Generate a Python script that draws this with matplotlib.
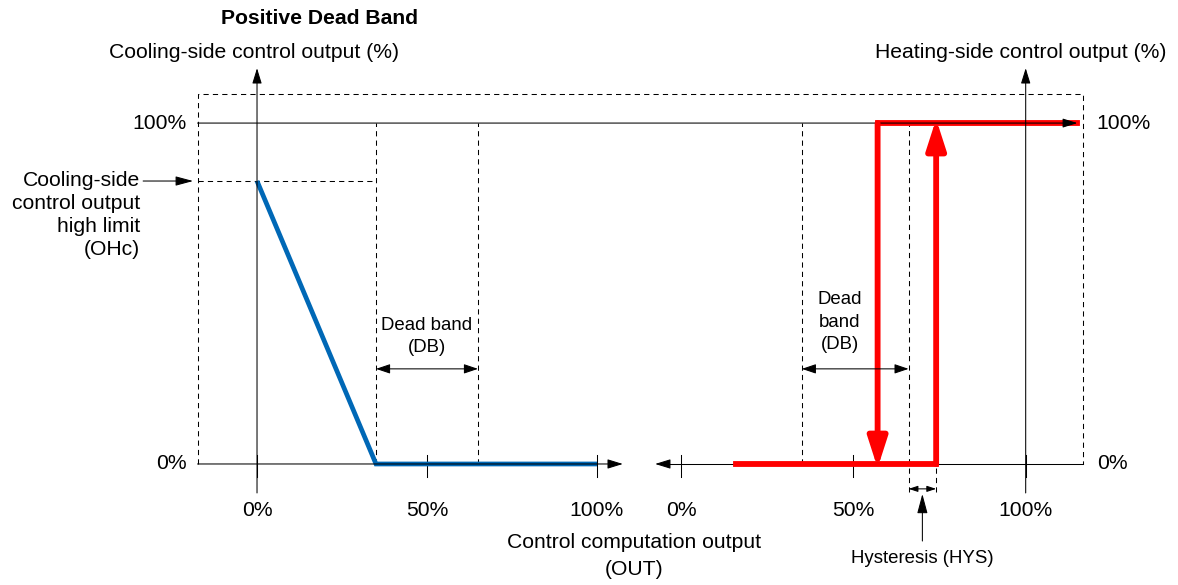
import matplotlib
matplotlib.use("Agg")
import matplotlib.pyplot as plt

plt.rcParams["font.family"] = ["Liberation Sans", "DejaVu Sans"]

# cooling side, left scale (% of control computation output)
COOL_X = [0, 35, 100]
COOL_Y = [83, 0, 0]
OHC = 83
DB_LEFT = [35, 65]

# heating side, right scale
HEAT_LOW_X = [16, 74]     # output 0 %, switches on at 74
HEAT_HIGH_X = [57, 115]   # output 100 %, switches off at 57
DB_RIGHT = [35, 66]
HYS = [66, 74]

TICKS = [0, 50, 100]
TICK_LABELS = ["0%", "50%", "100%"]
LEVELS = [0, 100]
LEVEL_LABELS = ["0%", "100%"]

BLUE = "#0068b6"
RED = "#ff0000"
BIG = 15.2
SMALL = 13.4
LW = 0.75
DASH = (0, (5, 4))

# right scale sits to the right of the left one
R0 = 124.8
RS = 1.013
TIP = 1.2   # lets the red arrow tips reach the far edge of the red lines


def hx(p):
    """ right-scale value to axes x """
    return R0 + RS * p


def arrow(ax, start, end, hl, hw, color="k", lw=LW, style="-|>"):
    """ straight arrow with filled head """
    ax.annotate("", xy=end, xytext=start,
                arrowprops=dict(arrowstyle="%s,head_length=%g,head_width=%g"
                                % (style, hl, hw),
                                color=color, lw=lw, mutation_scale=10,
                                shrinkA=0, shrinkB=0))


fig = plt.figure(figsize=(11.78, 5.85), dpi=100)
ax = fig.add_axes([0, 0, 1, 1])
ax.set_xlim(-75.6, 270.9)
ax.set_ylim(-35.5, 136.1)
ax.axis("off")

box_l, box_r, box_t = -17.5, 243.0, 108.5

# dashed frame
ax.plot([box_l, box_l, box_r, box_r], [0, box_t, box_t, 0],
        color="k", lw=LW, linestyle=DASH)

# 100 % line and the two horizontal axes
arrow(ax, (box_l, 100), (hx(HEAT_HIGH_X[1]), 100), 0.9, 0.28)
arrow(ax, (box_l, 0), (107.6, 0), 0.94, 0.29)
ax.plot([hx(-4), box_r], [0, 0], color="k", lw=LW)
arrow(ax, (hx(-4), 0), (117.1, 0), 0.94, 0.29)

# vertical axes
arrow(ax, (0, -8.5), (0, 116.1), 0.94, 0.29)
arrow(ax, (hx(100), -8.5), (hx(100), 116.1), 0.94, 0.29)

# ticks
for t, lab in zip(TICKS, TICK_LABELS):
    ax.plot([t, t], [-3.8, 2.6], color="k", lw=LW)
    ax.plot([hx(t), hx(t)], [-3.8, 2.6], color="k", lw=LW)
    ax.text(t, -13.5, lab, fontsize=BIG, ha="center", va="center")
    ax.text(hx(t), -13.5, lab, fontsize=BIG, ha="center", va="center")

for lev, lab in zip(LEVELS, LEVEL_LABELS):
    ax.text(box_l - 3.3, lev, lab, fontsize=BIG, ha="right", va="center")
    ax.text(box_r + 4.0, lev, lab, fontsize=BIG, ha="left", va="center")

# dead band / hysteresis guides
ax.plot([box_l, DB_LEFT[0]], [OHC, OHC], color="k", lw=LW, linestyle=DASH)
for d in DB_LEFT:
    ax.plot([d, d], [0, 100], color="k", lw=LW, linestyle=DASH)
ax.plot([hx(DB_RIGHT[0])] * 2, [0, 100], color="k", lw=LW, linestyle=DASH)
ax.plot([hx(DB_RIGHT[1])] * 2, [-8.2, 100], color="k", lw=LW, linestyle=DASH)
ax.plot([hx(HYS[1])] * 2, [-8.2, 0], color="k", lw=LW, linestyle=DASH)

# cooling output
ax.plot(COOL_X, COOL_Y, color=BLUE, lw=3.4, solid_joinstyle="miter",
        solid_capstyle="butt")

# heating output with hysteresis
ax.plot([hx(x) for x in HEAT_LOW_X], [0, 0], color=RED, lw=4.2,
        solid_capstyle="projecting")
ax.plot([hx(x) for x in HEAT_HIGH_X], [100, 100], color=RED, lw=4.2,
        solid_capstyle="projecting")
arrow(ax, (hx(HEAT_LOW_X[1]), 0), (hx(HEAT_LOW_X[1]), 100 + TIP), 1.8, 0.58,
      color=RED, lw=4.2)
arrow(ax, (hx(HEAT_HIGH_X[0]), 100), (hx(HEAT_HIGH_X[0]), 0 - TIP), 1.8, 0.58,
      color=RED, lw=4.2)

# dimension arrows
arrow(ax, (DB_LEFT[0], 27.9), (DB_LEFT[1], 27.9), 0.86, 0.29, style="<|-|>")
arrow(ax, (hx(DB_RIGHT[0]), 27.9), (hx(DB_RIGHT[1]), 27.9), 0.86, 0.29,
      style="<|-|>")
arrow(ax, (hx(HYS[0]), -7.3), (hx(HYS[1]), -7.3), 0.55, 0.18, style="<|-|>")
hys_mid = hx((HYS[0] + HYS[1]) / 2)
arrow(ax, (hys_mid, -22.6), (hys_mid, -8.8), 1.2, 0.32)
arrow(ax, (-33.5, OHC), (-18.8, OHC), 1.08, 0.29)

# texts
ax.text(18.5, 130.8, "Positive Dead Band", fontsize=BIG, fontweight="bold",
        ha="center", va="center")
ax.text(-0.9, 120.8, "Cooling-side control output (%)", fontsize=BIG,
        ha="center", va="center")
ax.text(hx(98.5), 120.8, "Heating-side control output (%)", fontsize=BIG,
        ha="center", va="center")
ax.text(-34.4, 86.0, "Cooling-side\ncontrol output\nhigh limit\n(OHc)",
        fontsize=BIG, ha="right", va="top", multialignment="right",
        linespacing=1.27)
ax.text(50, 43.2, "Dead band\n(DB)", fontsize=SMALL, ha="center", va="top",
        linespacing=1.4)
ax.text(hx(46), 50.6, "Dead\nband\n(DB)", fontsize=SMALL, ha="center",
        va="top", linespacing=1.4)
ax.text(110.9, -27.0, "Control computation output\n(OUT)", fontsize=BIG,
        ha="center", va="center", linespacing=1.5)
ax.text(hys_mid, -27.6, "Hysteresis (HYS)", fontsize=SMALL, ha="center",
        va="center")

fig.savefig("out.png", dpi=100)
